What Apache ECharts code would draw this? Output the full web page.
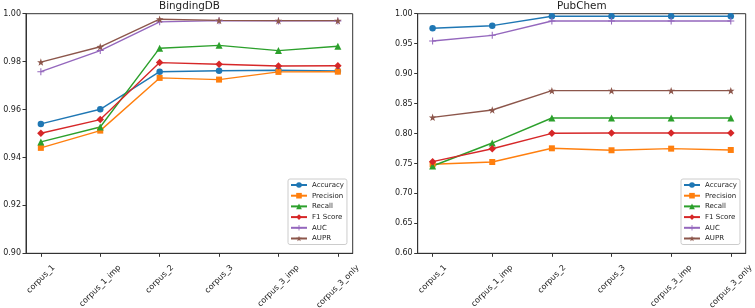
<!DOCTYPE html>
<html>
<head>
<meta charset="utf-8">
<script src="https://cdn.jsdelivr.net/npm/echarts@6/dist/echarts.min.js"></script>
<style>
  html, body { margin: 0; padding: 0; background: #fff; }
  #chart { width: 755px; height: 308px; }
</style>
</head>
<body>
<div id="chart"></div>
<script>
  const categories = ['corpus_1', 'corpus_1_imp', 'corpus_2', 'corpus_3', 'corpus_3_imp', 'corpus_3_only'];
  const metrics = ['Accuracy', 'Precision', 'Recall', 'F1 Score', 'AUC', 'AUPR'];

  // BingdingDB
  const bdAccuracy = [0.9540, 0.9601, 0.9758, 0.9762, 0.9764, 0.9761];
  const bdPrecision = [0.9440, 0.9512, 0.9732, 0.9725, 0.9757, 0.9758];
  const bdRecall = [0.9465, 0.9527, 0.9856, 0.9868, 0.9846, 0.9864];
  const bdF1 = [0.9501, 0.9558, 0.9796, 0.9789, 0.9782, 0.9783];
  const bdAuc = [0.9758, 0.9846, 0.9966, 0.9971, 0.9970, 0.9970];
  const bdAupr = [0.9798, 0.9862, 0.9977, 0.9972, 0.9971, 0.9971];

  // PubChem
  const pcAccuracy = [0.9756, 0.9800, 0.9957, 0.9957, 0.9957, 0.9957];
  const pcPrecision = [0.7486, 0.7524, 0.7753, 0.7720, 0.7747, 0.7725];
  const pcRecall = [0.7457, 0.7841, 0.8259, 0.8260, 0.8260, 0.8260];
  const pcF1 = [0.7530, 0.7746, 0.8003, 0.8008, 0.8008, 0.8008];
  const pcAuc = [0.9544, 0.9639, 0.9878, 0.9878, 0.9878, 0.9878];
  const pcAupr = [0.8270, 0.8392, 0.8715, 0.8715, 0.8715, 0.8715];

  const bdTicks = [0.90, 0.92, 0.94, 0.96, 0.98, 1.00];
  const pcTicks = [0.60, 0.65, 0.70, 0.75, 0.80, 0.85, 0.90, 0.95, 1.00];

  const colors = ['#1f77b4', '#ff7f0e', '#2ca02c', '#d62728', '#9467bd', '#8c564b'];
  const symbols = [
    'circle', 'rect', 'triangle', 'diamond',
    'path://M-1.5,-10 L1.5,-10 L1.5,-1.5 L10,-1.5 L10,1.5 L1.5,1.5 L1.5,10 L-1.5,10 L-1.5,1.5 L-10,1.5 L-10,-1.5 L-1.5,-1.5 Z',
    'path://M0,-10 L2.35,-3.24 L9.51,-3.09 L3.8,1.24 L5.88,8.09 L0,4 L-5.88,8.09 L-3.8,1.24 L-9.51,-3.09 L-2.35,-3.24 Z'
  ];
  const symbolSizes = [6.5, 6, 7, 7.5, 7, 7.5];
  const font = 'DejaVu Sans';

  // rotated tick labels, centred under the tick like matplotlib
  const ctx = document.createElement('canvas').getContext('2d');
  ctx.font = '8px "' + font + '"';
  const rich = {};
  categories.forEach((c, i) => {
    const w = ctx.measureText(c).width;
    const s = (w + 9) / 2;
    rich['l' + i] = { fontSize: 8, fontFamily: font, color: '#222', lineHeight: 9, padding: [s, s, 0, 0] };
  });

  const chart = echarts.init(document.getElementById('chart'));

  function xAxis(idx) {
    return {
      type: 'value', gridIndex: idx, min: -0.25, max: 5.25,
      splitLine: { show: false },
      axisLine: { onZero: false, lineStyle: { color: '#333', width: 1 } },
      axisTick: { length: 3.5, customValues: [0, 1, 2, 3, 4, 5], lineStyle: { color: '#333' } },
      axisLabel: {
        customValues: [0, 1, 2, 3, 4, 5],
        rotate: 45, margin: 10, align: 'center', verticalAlign: 'middle',
        hideOverlap: false,
        formatter: v => '{l' + v + '|' + categories[v] + '}',
        rich: rich
      }
    };
  }

  function yAxis(idx, ticks) {
    return {
      type: 'value', gridIndex: idx,
      min: ticks[0], max: ticks[ticks.length - 1], interval: ticks[1] - ticks[0],
      splitLine: { show: false },
      axisLine: { show: true, onZero: false, lineStyle: { color: '#333', width: 1 } },
      axisTick: { show: true, length: 3.5, lineStyle: { color: '#333' } },
      axisLabel: { fontSize: 8, fontFamily: font, color: '#222', margin: 5, formatter: v => v.toFixed(2) }
    };
  }

  function makeSeries(idx, sets) {
    return sets.map((vals, m) => ({
      name: metrics[m],
      type: 'line',
      xAxisIndex: idx, yAxisIndex: idx,
      data: vals.map((v, i) => [i, v]),
      symbol: symbols[m],
      symbolSize: symbolSizes[m],
      color: colors[m],
      lineStyle: { width: 1.4 },
      itemStyle: { color: colors[m] },
      animation: false
    }));
  }

  function legend(left) {
    return {
      orient: 'vertical', left: left, top: 179,
      itemWidth: 16, itemHeight: 7, itemGap: 2.7,
      padding: [2, 3, 2, 2],
      backgroundColor: 'rgba(255,255,255,0.8)',
      borderColor: '#ccc', borderWidth: 1, borderRadius: 2,
      textStyle: { fontSize: 7, fontFamily: font, color: '#222', lineHeight: 8 },
      data: metrics
    };
  }

  const option = {
    animation: false,
    title: [
      { text: 'BingdingDB', left: 189.5, top: 1, padding: 0, textAlign: 'center',
        textStyle: { fontSize: 10.4, fontWeight: 'normal', fontFamily: font, color: '#222' } },
      { text: 'PubChem', left: 581.7, top: 1, padding: 0, textAlign: 'center',
        textStyle: { fontSize: 10.4, fontWeight: 'normal', fontFamily: font, color: '#222' } }
    ],
    grid: [
      { left: 26, right: 402.3, top: 13.7, bottom: 54.7, show: true, borderColor: '#333', borderWidth: 1,
        outerBoundsMode: 'none' },
      { left: 417.7, right: 9.3, top: 13.7, bottom: 54.7, show: true, borderColor: '#333', borderWidth: 1,
        outerBoundsMode: 'none' }
    ],
    legend: [legend(288), legend(681)],
    xAxis: [xAxis(0), xAxis(1)],
    yAxis: [yAxis(0, bdTicks), yAxis(1, pcTicks)],
    series: [
      ...makeSeries(0, [bdAccuracy, bdPrecision, bdRecall, bdF1, bdAuc, bdAupr]),
      ...makeSeries(1, [pcAccuracy, pcPrecision, pcRecall, pcF1, pcAuc, pcAupr])
    ]
  };
  chart.setOption(option);
</script>
</body>
</html>
